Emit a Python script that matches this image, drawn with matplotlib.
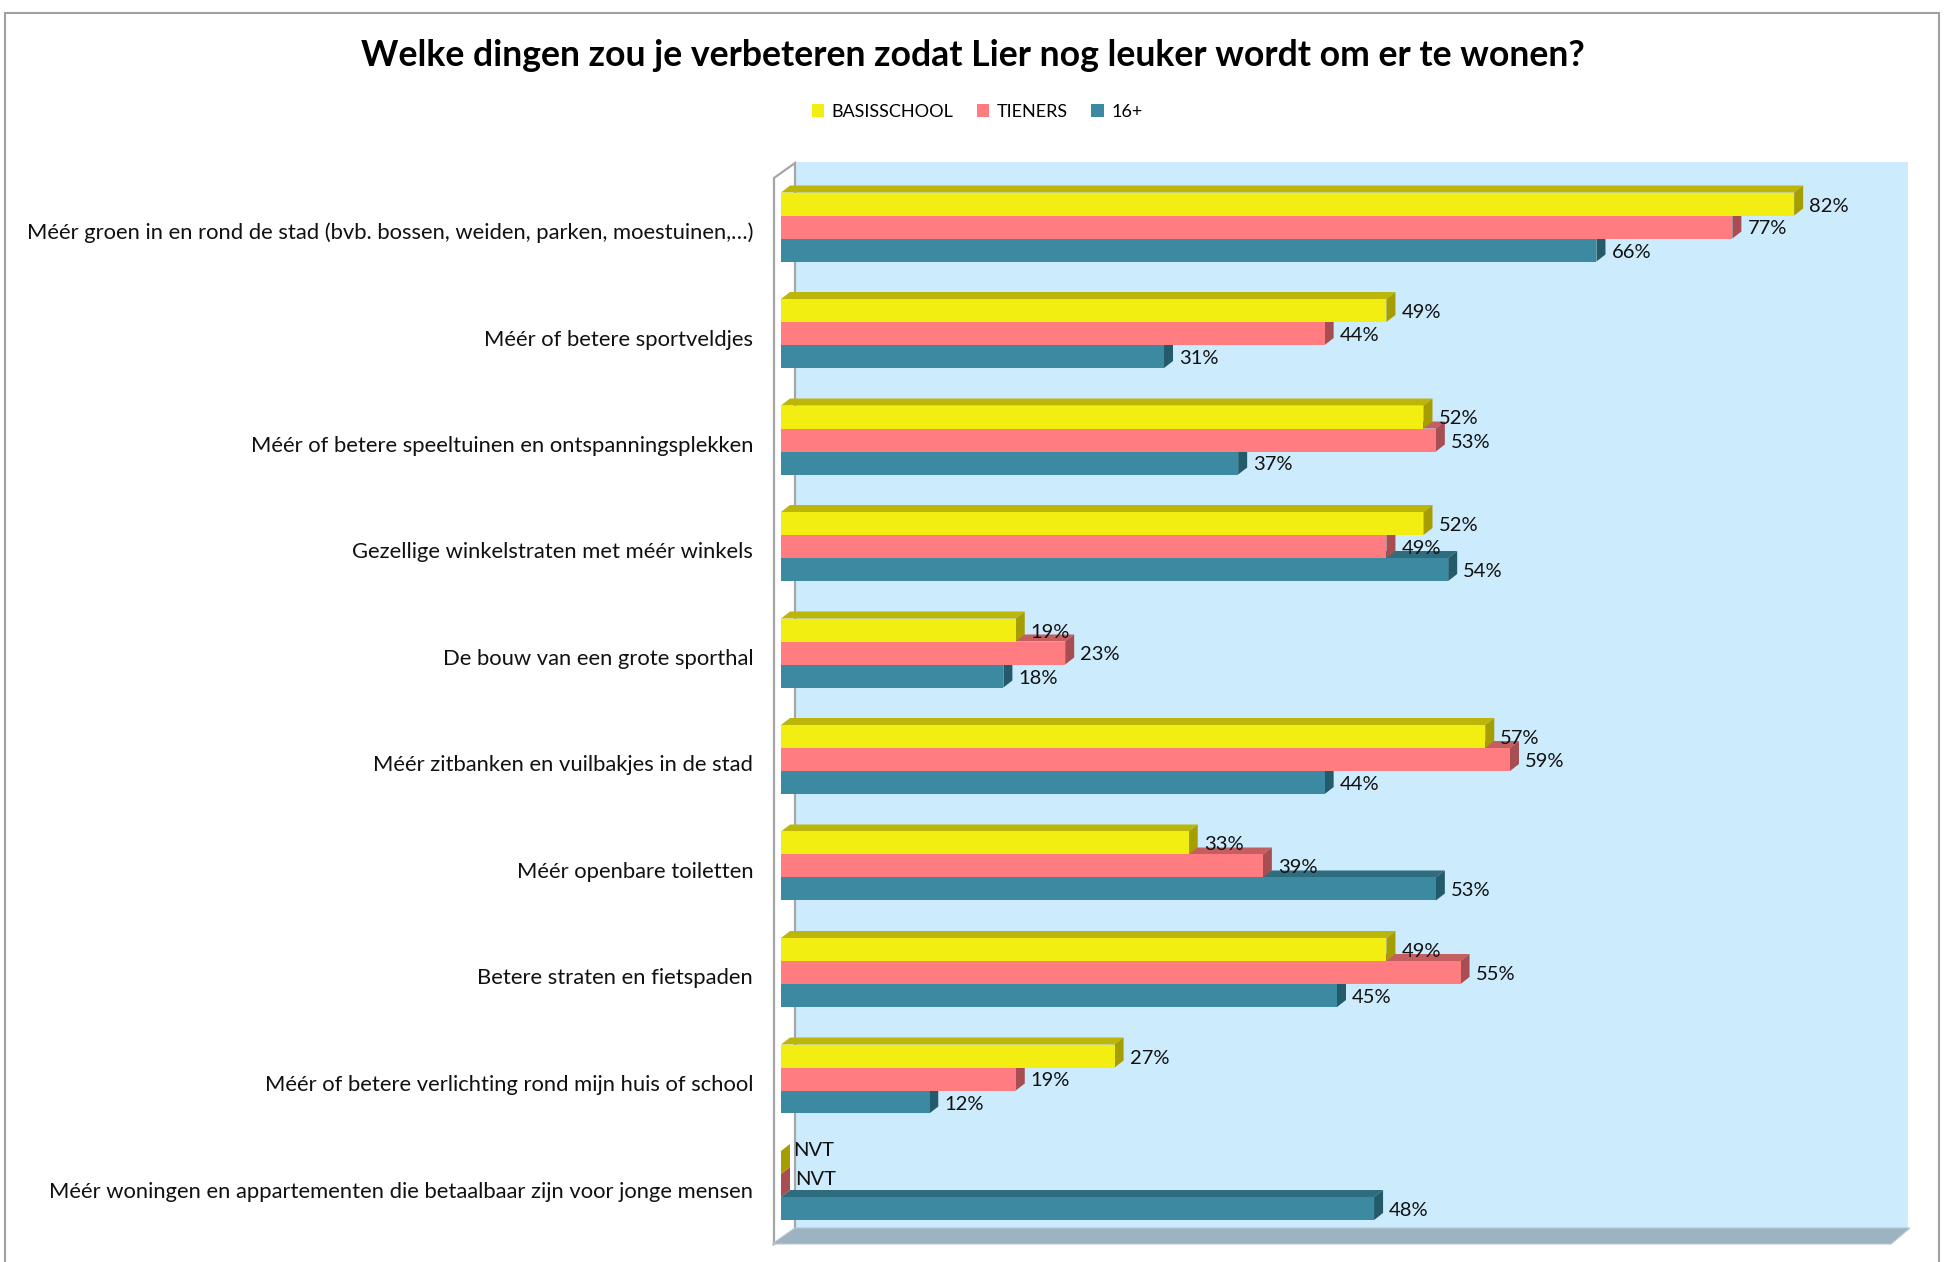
import matplotlib
matplotlib.use('Agg')
import matplotlib.pyplot as plt
from matplotlib.patches import Polygon, Rectangle, Patch
from matplotlib.transforms import ScaledTranslation
import numpy as np

# ---------------- data ----------------
categories = [
    "Méér groen in en rond de stad (bvb. bossen, weiden, parken, moestuinen,…)",
    "Méér of betere sportveldjes",
    "Méér of betere speeltuinen en ontspanningsplekken",
    "Gezellige winkelstraten met méér winkels",
    "De bouw van een grote sporthal",
    "Méér zitbanken en vuilbakjes in de stad",
    "Méér openbare toiletten",
    "Betere straten en fietspaden",
    "Méér of betere verlichting rond mijn huis of school",
    "Méér woningen en appartementen die betaalbaar zijn voor jonge mensen",
]
basisschool = [82, 49, 52, 52, 19, 57, 33, 49, 27, None]
tieners = [77, 44, 53, 49, 23, 59, 39, 55, 19, None]
zestien_plus = [66, 31, 37, 54, 18, 44, 53, 45, 12, 48]
series_names = ["BASISSCHOOL", "TIENERS", "16+"]
title = "Welke dingen zou je verbeteren zodat Lier nog leuker wordt om er te wonen?"
na_label = "NVT"
x_max = 90

# ---------------- style ----------------
FONT = ["Lato", "DejaVu Sans"]
plt.rcParams['font.family'] = FONT
front_cols = ["#F2EE12", "#FF7C80", "#3C8AA2"]
top_cols = ["#BDB60A", "#C45E61", "#2E6C7E"]
side_cols = ["#A69E00", "#A84E52", "#245B6A"]
wall_col = "#CCEBFC"
floor_col = "#9DB3C1"
edge_grey = "#A6A6A6"

W, H, DPI = 1946, 1262, 100
fig = plt.figure(figsize=(W / DPI, H / DPI), dpi=DPI)

# axes (front plane) in pixels
ax_l, ax_r, ax_t, ax_b = 781, 1893, 178, 1244
ax = fig.add_axes([ax_l / W, 1 - ax_b / H, (ax_r - ax_l) / W, (ax_b - ax_t) / H])
aw, ah = ax_r - ax_l, ax_b - ax_t
group_px = 106.5
first_center = 227
ax.set_xlim(0, x_max)
ax.set_ylim((ax_b - first_center) / group_px, (ax_t - first_center) / group_px)
ax.set_facecolor('none')
for s in ax.spines.values():
    s.set_visible(False)

# back wall, left wall, floor
back_off = ScaledTranslation(15 / DPI, 16 / DPI, fig.dpi_scale_trans)
ax.add_patch(Rectangle((0, 0), 1, 1, transform=ax.transAxes + back_off,
                       facecolor=wall_col, edgecolor='none', clip_on=False, zorder=0))
ax.add_patch(Polygon([(-7 / aw, 0), (-7 / aw, 1), (14 / aw, 1 + 15 / ah), (14 / aw, 15 / ah)],
                     closed=True, transform=ax.transAxes, facecolor='white',
                     edgecolor=edge_grey, linewidth=1.6, clip_on=False, zorder=0.5))
ax.add_patch(Polygon([(-9 / aw, 0), (1 - 2 / aw, 0), (1 + 17 / aw, 16 / ah), (14 / aw, 16 / ah)],
                     closed=True, transform=ax.transAxes, facecolor=floor_col,
                     edgecolor='#B5C8D4', linewidth=0.8, clip_on=False, zorder=0.6))

# bars
bh = 23 / group_px
ddx = 9 * x_max / aw
ddy = 7 / group_px
series = [basisschool, tieners, zestien_plus]
offsets = [-bh, 0, bh]
na_offsets = [(12, 12), (14, 6), (14, 4)]
z = 2
for i in range(len(categories)):
    for s in [2, 1, 0]:
        v = series[s][i]
        yc = i + offsets[s]
        yt, yb = yc - bh / 2, yc + bh / 2
        if v is None:
            ax.add_patch(Polygon([(0, yb), (0, yt), (ddx, yt - ddy), (ddx, yb - ddy)],
                                 facecolor=side_cols[s], edgecolor='none', zorder=z))
            ax.annotate(na_label, xy=(0, yc), xytext=na_offsets[s],
                        textcoords='offset pixels', ha='left', va='center',
                        fontsize=14.5, color='#111111', zorder=50)
            z += 1
            continue
        ax.add_patch(Polygon([(0, yt), (v, yt), (v + ddx, yt - ddy), (ddx, yt - ddy)],
                             facecolor=top_cols[s], edgecolor='none', zorder=z))
        ax.add_patch(Polygon([(v, yb), (v, yt), (v + ddx, yt - ddy), (v + ddx, yb - ddy)],
                             facecolor=side_cols[s], edgecolor='none', zorder=z))
        ax.add_patch(Rectangle((0, yt), v, bh, facecolor=front_cols[s],
                               edgecolor='none', zorder=z + 0.5))
        ax.annotate(f"{v}%", xy=(v, yc), xytext=(15, -2), textcoords='offset pixels',
                    ha='left', va='center', fontsize=14.5, color='#111111', zorder=50)
        z += 1

ax.set_xticks([])
ax.set_yticks(np.arange(len(categories)))
ax.set_yticklabels(categories, fontsize=15.8, color='#111111')
ax.tick_params(axis='y', length=0, pad=20)
for lbl in ax.get_yticklabels():
    lbl.set_transform(lbl.get_transform() + ScaledTranslation(0, -4 / DPI, fig.dpi_scale_trans))

# title and legend
fig.text(973 / W, 1 - 55 / H, title, ha='center', va='center', fontsize=25.7,
         fontweight='bold', color='black')
handles = [Patch(facecolor=c, edgecolor='none') for c in front_cols]
fig.legend(handles, series_names, loc='center', bbox_to_anchor=(977 / W, 1 - 112 / H),
           ncol=3, frameon=False, fontsize=13, handlelength=0.7, handleheight=0.7,
           handletextpad=0.4, columnspacing=1.3)

# outer border
fig.patches.append(Rectangle((5 / W, -0.02), 1934 / W, 1.02 - 13 / H, transform=fig.transFigure,
                             facecolor='none', edgecolor='#A0A0A0', linewidth=1.5))

fig.savefig('out.png', dpi=DPI)
